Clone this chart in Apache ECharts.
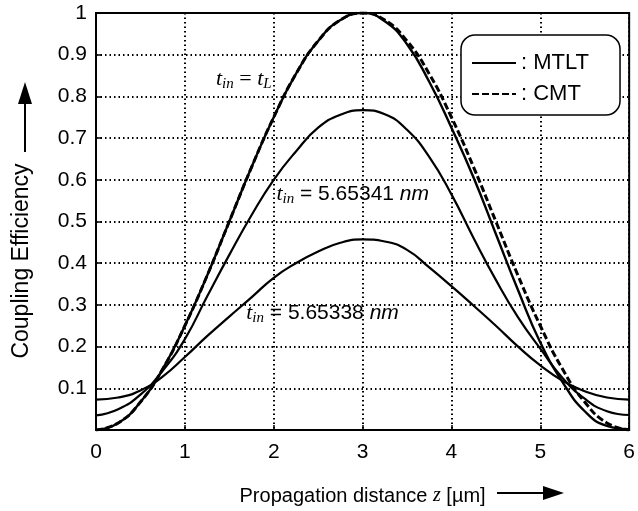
<!DOCTYPE html>
<html>
<head>
<meta charset="utf-8">
<script src="https://cdn.jsdelivr.net/npm/echarts@6/dist/echarts.min.js"></script>
<style>
  html, body { margin: 0; padding: 0; background: #fff; }
  #chart { width: 638px; height: 511px; }
</style>
</head>
<body>
<div id="chart"></div>
<script>
// propagation distance z [um]
const zValues = [0, 0.25, 0.5, 0.75, 1, 1.25, 1.5, 1.75, 2, 2.25, 2.5, 2.75, 3,
  3.25, 3.5, 3.75, 4, 4.25, 4.5, 4.75, 5, 5.25, 5.5, 5.75, 6];

// MTLT, t_in = t_L
const mtltTL = [0, 0.017, 0.067, 0.146, 0.25, 0.37, 0.5, 0.63, 0.75, 0.854, 0.933, 0.983, 1.0,
  0.98, 0.925, 0.835, 0.725, 0.605, 0.47, 0.335, 0.21, 0.115, 0.045, 0.01, 0.002];
// MTLT, t_in = 5.65341 nm
const mtltMid = [0.035, 0.05, 0.085, 0.142, 0.218, 0.32, 0.42, 0.515, 0.6, 0.668, 0.725, 0.756, 0.767,
  0.757, 0.72, 0.655, 0.565, 0.46, 0.36, 0.27, 0.195, 0.125, 0.075, 0.045, 0.036];
// MTLT, t_in = 5.65338 nm
const mtltLow = [0.073, 0.078, 0.095, 0.128, 0.175, 0.225, 0.272, 0.318, 0.365, 0.4, 0.428, 0.449, 0.457,
  0.452, 0.432, 0.39, 0.345, 0.298, 0.25, 0.2, 0.155, 0.118, 0.093, 0.078, 0.073];
// CMT
const cmt = [0, 0.017, 0.067, 0.146, 0.25, 0.37, 0.5, 0.63, 0.75, 0.854, 0.933, 0.983, 1.0,
  0.983, 0.933, 0.854, 0.75, 0.63, 0.5, 0.37, 0.25, 0.146, 0.067, 0.017, 0];

// curve labels, anchored at their left edge in data coordinates
const notes = [
  { text: '{t|t}{sub|in}{eq| = }{t|t}{sub|L}', z: 1.35, y: 0.842 },
  { text: '{t|t}{sub|in}{num| = 5.65341 }{nm|nm}', z: 2.03, y: 0.566 },
  { text: '{t|t}{sub|in}{num| = 5.65338 }{nm|nm}', z: 1.69, y: 0.281 }
];

const SANS = '"Liberation Sans", Arial, sans-serif';
const SERIF = '"Liberation Serif", "Times New Roman", serif';

const pairs = arr => zValues.map((z, i) => [z, arr[i]]);

const chart = echarts.init(document.getElementById('chart'));

const mtltLine = (data, width) => ({
  name: 'MTLT',
  type: 'line',
  data: pairs(data),
  smooth: true,
  symbol: 'none',
  itemStyle: { color: '#000' },
  lineStyle: { color: '#000', width: width },
  z: 3
});

chart.setOption({
  animation: false,
  grid: {
    left: 96, right: 5, top: 13, bottom: 74,
    show: true, borderColor: '#000', borderWidth: 2
  },
  legend: {
    data: ['MTLT', 'CMT'],
    orient: 'vertical',
    left: 461,
    top: 35,
    backgroundColor: '#fff',
    borderColor: '#000',
    borderWidth: 1.5,
    borderRadius: 14,
    padding: [17, 31, 10, 10],
    itemWidth: 44,
    itemHeight: 14,
    itemGap: 9,
    itemStyle: { opacity: 0 },
    formatter: ': {name}',
    textStyle: { fontFamily: SANS, fontSize: 22, color: '#000' }
  },
  xAxis: {
    type: 'value',
    min: 0, max: 6, interval: 1,
    name: 'Propagation distance {z|z} [\u00b5m]',
    nameLocation: 'middle',
    nameGap: 56,
    nameTextStyle: {
      fontFamily: SANS, fontSize: 20, color: '#000',
      rich: { z: { fontFamily: SERIF, fontStyle: 'italic', fontSize: 20, color: '#000' } }
    },
    axisLine: { lineStyle: { color: '#000', width: 2 } },
    axisTick: { inside: true, length: 5, lineStyle: { color: '#000', width: 1.5 } },
    axisLabel: { fontFamily: SANS, fontSize: 21, color: '#000', margin: 12 },
    splitLine: { lineStyle: { color: '#000', width: 2, type: [1.5, 3] } }
  },
  yAxis: {
    type: 'value',
    min: 0, max: 1, interval: 0.1,
    axisLine: { lineStyle: { color: '#000', width: 2 } },
    axisTick: { inside: true, length: 5, lineStyle: { color: '#000', width: 1.5 } },
    axisLabel: {
      fontFamily: SANS, fontSize: 21, color: '#000', margin: 9,
      formatter: v => v === 0 ? '' : (v === 1 ? '1' : v.toFixed(1))
    },
    splitLine: { lineStyle: { color: '#000', width: 2, type: [1.5, 3] } }
  },
  series: [
    mtltLine(mtltTL, 2.4),
    mtltLine(mtltMid, 2.2),
    mtltLine(mtltLow, 2.2),
    {
      name: 'CMT',
      type: 'line',
      data: pairs(cmt),
      smooth: true,
      symbol: 'none',
      itemStyle: { color: '#000' },
      lineStyle: { color: '#000', width: 3, type: [7, 3] },
      z: 4
    }
  ]
});

// labels and axis arrows
const rich = {
  t: { fontFamily: SERIF, fontStyle: 'italic', fontSize: 22, lineHeight: 26, color: '#000' },
  sub: { fontFamily: SERIF, fontStyle: 'italic', fontSize: 15, lineHeight: 26, verticalAlign: 'bottom', color: '#000' },
  eq: { fontFamily: SERIF, fontSize: 22, lineHeight: 26, color: '#000' },
  num: { fontFamily: SANS, fontSize: 21, lineHeight: 26, color: '#000' },
  nm: { fontFamily: SANS, fontStyle: 'italic', fontSize: 21, lineHeight: 26, color: '#000' }
};

const noteGraphics = notes.map(n => {
  const p = chart.convertToPixel({ gridIndex: 0 }, [n.z, n.y]);
  return {
    type: 'text',
    x: p[0], y: p[1],
    z: 10,
    style: { text: n.text, rich: rich, align: 'left', verticalAlign: 'middle' }
  };
});

chart.setOption({
  graphic: noteGraphics.concat([
    {
      type: 'text',
      x: 22, y: 261,
      rotation: Math.PI / 2,
      style: {
        text: 'Coupling Efficiency',
        fontFamily: SANS, fontSize: 23, fill: '#000',
        align: 'center', verticalAlign: 'middle'
      }
    },
    { type: 'line', shape: { x1: 25, y1: 152, x2: 25, y2: 100 }, style: { stroke: '#000', lineWidth: 2 } },
    { type: 'polygon', shape: { points: [[25, 82], [18, 104], [32, 104]] }, style: { fill: '#000' } },
    { type: 'line', shape: { x1: 497, y1: 493, x2: 546, y2: 493 }, style: { stroke: '#000', lineWidth: 2 } },
    { type: 'polygon', shape: { points: [[564, 493], [543, 486], [543, 500]] }, style: { fill: '#000' } }
  ])
});
</script>
</body>
</html>
